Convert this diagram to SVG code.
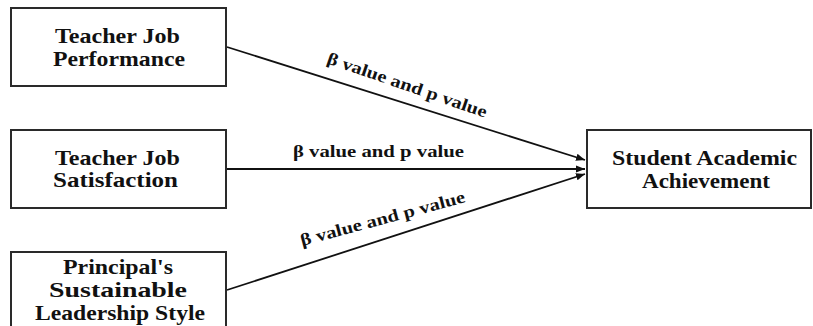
<svg xmlns="http://www.w3.org/2000/svg" width="813" height="326" viewBox="0 0 813 326">
<style>
.box{fill:#fff;stroke:#2a2a2a;stroke-width:2}
.t{font-family:"Times New Roman","Liberation Serif",serif;font-weight:bold;font-size:21px;fill:#111}
.lbl{font-family:"Times New Roman","Liberation Serif",serif;font-weight:bold;font-size:17px;fill:#111}
.ln{stroke:#111;stroke-width:1.8;fill:none}
</style>
<defs>
<marker id="arr" viewBox="0 0 10 10" refX="10" refY="5" markerWidth="5" markerHeight="5" orient="auto" markerUnits="strokeWidth">
<path d="M0,1 L10,5 L0,9 Z" fill="#111"/>
</marker>
</defs>
<rect width="813" height="326" fill="#fff"/>
<g id="connectors">
<line class="ln" x1="227" y1="47" x2="585" y2="160" marker-end="url(#arr)"/>
<line class="ln" x1="227" y1="169" x2="585" y2="169" marker-end="url(#arr)"/>
<line class="ln" x1="227" y1="290" x2="585" y2="174" marker-end="url(#arr)"/>
<text class="lbl" transform="translate(326,63) rotate(19)" x="0" y="0" textLength="168" lengthAdjust="spacingAndGlyphs">β value and p value</text>
<text class="lbl" x="293" y="157" textLength="171" lengthAdjust="spacingAndGlyphs">β value and p value</text>
<text class="lbl" transform="translate(302,246) rotate(-15)" x="0" y="0" textLength="170" lengthAdjust="spacingAndGlyphs">β value and p value</text>
</g>
<g id="n1">
<rect class="box" x="11" y="8" width="215" height="78"/>
<text class="t" x="55" y="43" textLength="125" lengthAdjust="spacingAndGlyphs">Teacher Job</text>
<text class="t" x="53" y="66" textLength="132" lengthAdjust="spacingAndGlyphs">Performance</text>
</g>
<g id="n2">
<rect class="box" x="11" y="130" width="215" height="78"/>
<text class="t" x="55" y="165" textLength="125" lengthAdjust="spacingAndGlyphs">Teacher Job</text>
<text class="t" x="53" y="187" textLength="125" lengthAdjust="spacingAndGlyphs">Satisfaction</text>
</g>
<g id="n3">
<rect class="box" x="11" y="252" width="215" height="90"/>
<text class="t" x="63" y="274" textLength="110" lengthAdjust="spacingAndGlyphs">Principal's</text>
<text class="t" x="49" y="297" textLength="138" lengthAdjust="spacingAndGlyphs">Sustainable</text>
<text class="t" x="35" y="320" textLength="170" lengthAdjust="spacingAndGlyphs">Leadership Style</text>
</g>
<g id="n4">
<rect class="box" x="587" y="130" width="224" height="78"/>
<text class="t" x="612" y="165" textLength="185" lengthAdjust="spacingAndGlyphs">Student Academic</text>
<text class="t" x="642" y="188" textLength="128" lengthAdjust="spacingAndGlyphs">Achievement</text>
</g>
</svg>
